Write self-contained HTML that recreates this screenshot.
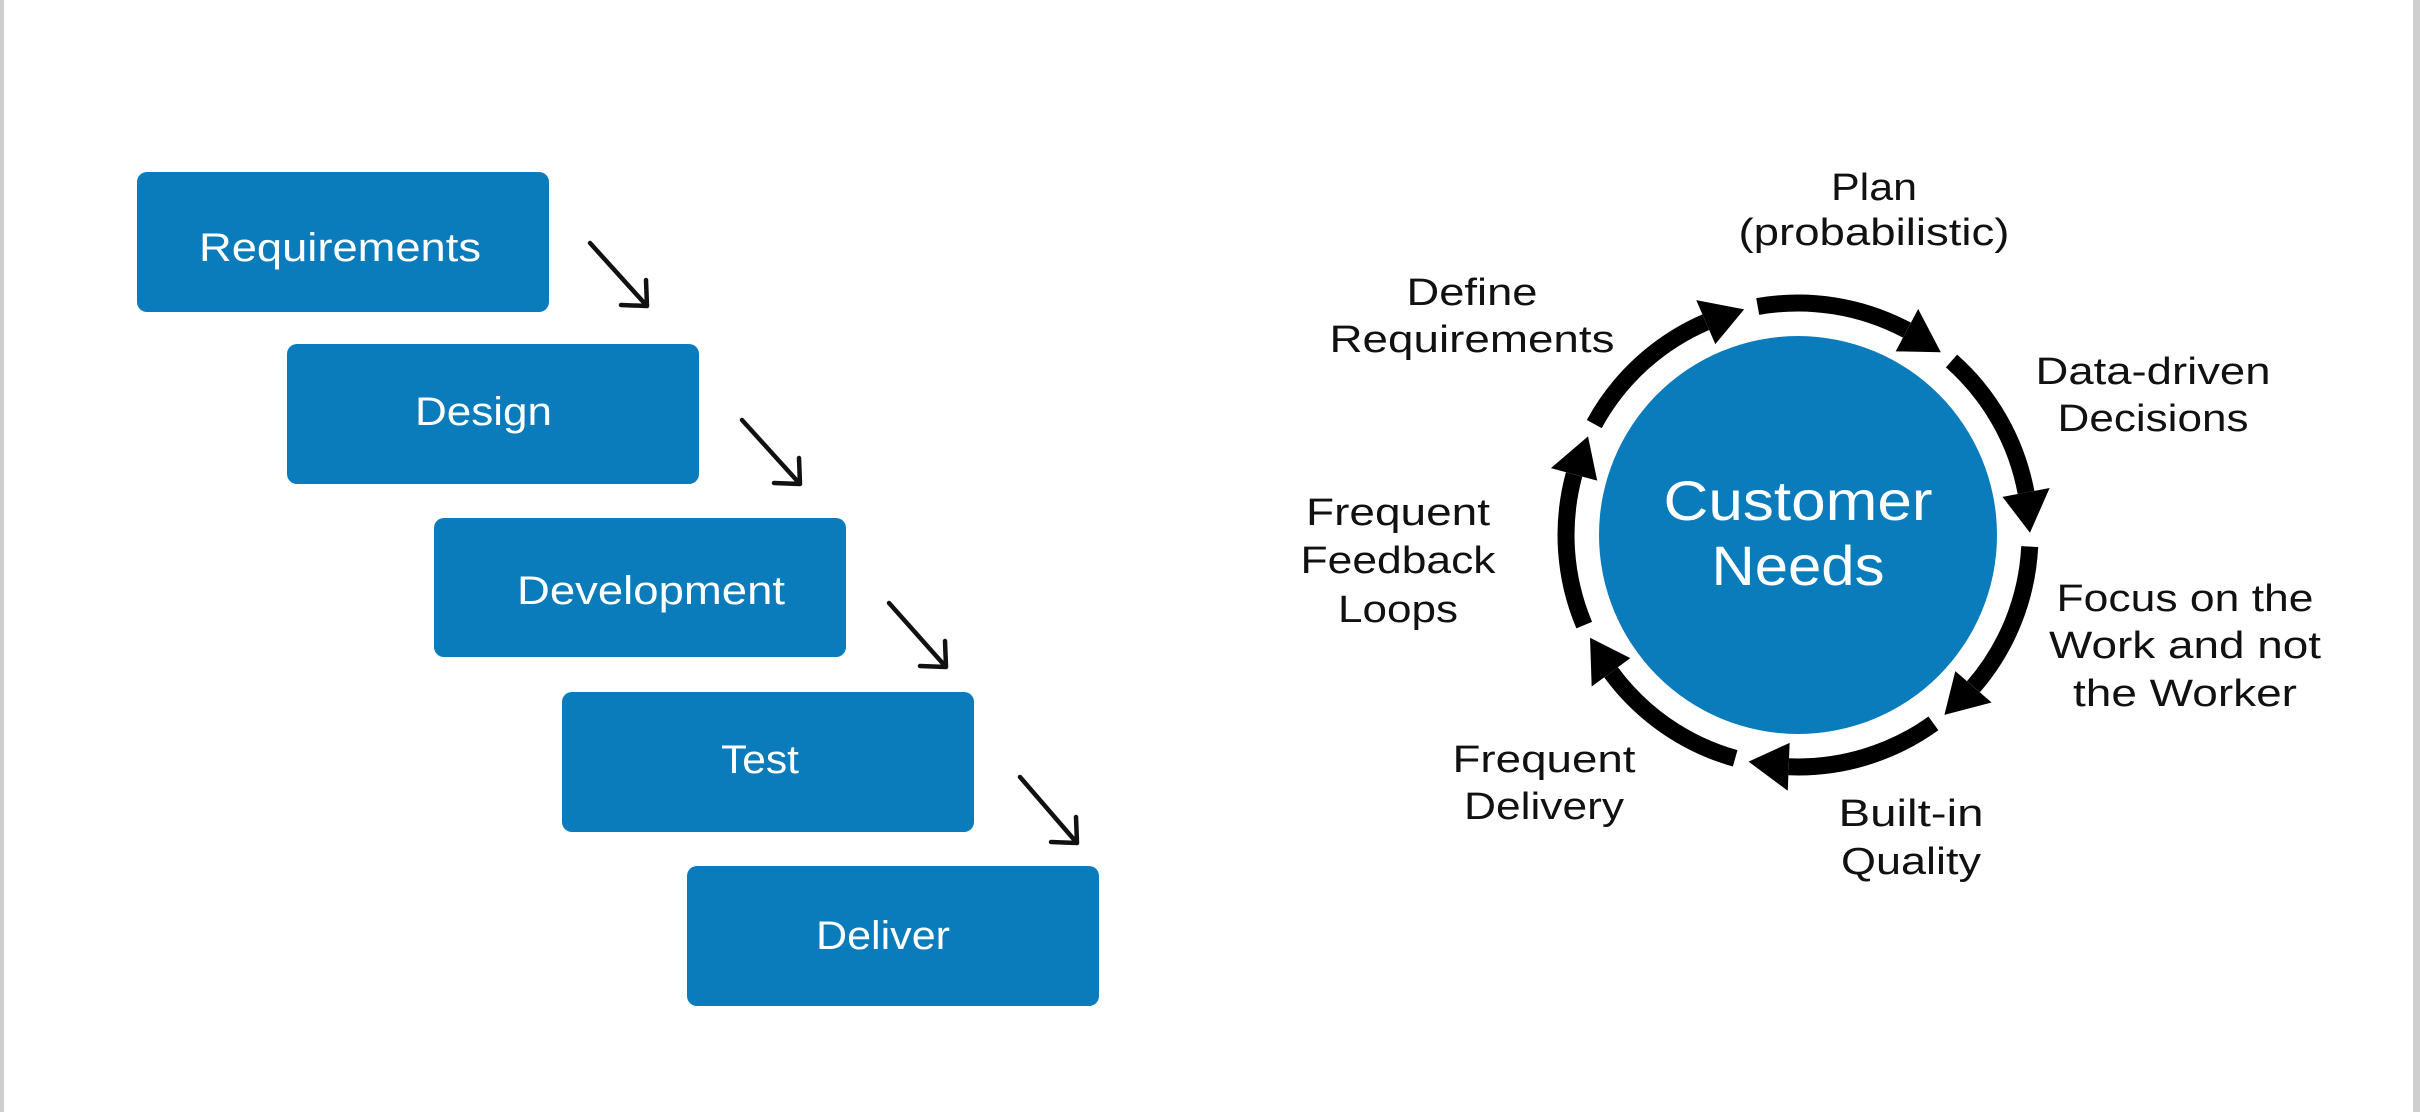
<!DOCTYPE html>
<html><head><meta charset="utf-8"><style>
html,body{margin:0;padding:0;background:#fff;}
svg{display:block;}
text{font-family:"Liberation Sans",sans-serif;}
</style></head><body>
<svg width="2420" height="1112" viewBox="0 0 2420 1112" xmlns="http://www.w3.org/2000/svg">
<rect x="0" y="0" width="2420" height="1112" fill="#fff"/>
<rect x="0" y="0" width="4" height="1112" fill="#cfcfcf"/>
<rect x="2413" y="0" width="7" height="1112" fill="#cfcfcf"/>
<g fill="#0a7bbb">
<rect x="137" y="172" width="412" height="140" rx="10"/>
<rect x="287" y="344" width="412" height="140" rx="10"/>
<rect x="434" y="518" width="412" height="139" rx="10"/>
<rect x="562" y="692" width="412" height="140" rx="10"/>
<rect x="687" y="866" width="412" height="140" rx="10"/>
</g>
<g fill="#fff" font-size="40">
<text x="199" y="261" textLength="282" lengthAdjust="spacingAndGlyphs">Requirements</text>
<text x="415" y="425" textLength="137" lengthAdjust="spacingAndGlyphs">Design</text>
<text x="517" y="604" textLength="268" lengthAdjust="spacingAndGlyphs">Development</text>
<text x="721" y="773" textLength="78" lengthAdjust="spacingAndGlyphs">Test</text>
<text x="816" y="949" textLength="134" lengthAdjust="spacingAndGlyphs">Deliver</text>
</g>
<g stroke="#111" stroke-width="4.5" fill="none" stroke-linecap="round">
<path d="M590 243 L647 306 M647 306 L646 280 M647 306 L621 305"/>
<path d="M742 420 L800 484 M800 484 L799 458 M800 484 L774 483"/>
<path d="M889 603 L946 667 M946 667 L945 641 M946 667 L920 666"/>
<path d="M1020 777 L1077 843 M1077 843 L1076 817 M1077 843 L1051 842"/>
</g>
<circle cx="1798" cy="535" r="199" fill="#0a7bbb"/>
<defs>
<g id="seg">
<path d="M1798 303 A232 232 0 0 1 1940.8 352.2" stroke="#000" stroke-width="17" fill="none"/>
<polygon points="1970.4,379.8 1955.6,333.3 1926.1,371.1" fill="#000"/>
</g>
</defs>
<use href="#seg" transform="rotate(-10 1798 535)"/>
<use href="#seg" transform="rotate(41.43 1798 535)"/>
<use href="#seg" transform="rotate(92.86 1798 535)"/>
<use href="#seg" transform="rotate(144.29 1798 535)"/>
<use href="#seg" transform="rotate(195.71 1798 535)"/>
<use href="#seg" transform="rotate(247.14 1798 535)"/>
<use href="#seg" transform="rotate(298.57 1798 535)"/>
<g fill="#fff" font-size="56" text-anchor="middle">
<text x="1798" y="520" textLength="269" lengthAdjust="spacingAndGlyphs">Customer</text>
<text x="1798" y="585" textLength="173" lengthAdjust="spacingAndGlyphs">Needs</text>
</g>
<g fill="#111" font-size="38" text-anchor="middle">
<text x="1874" y="200" textLength="86" lengthAdjust="spacingAndGlyphs">Plan</text>
<text x="1874" y="245" textLength="271" lengthAdjust="spacingAndGlyphs">(probabilistic)</text>
<text x="1472" y="305" textLength="131" lengthAdjust="spacingAndGlyphs">Define</text>
<text x="1472" y="352" textLength="285" lengthAdjust="spacingAndGlyphs">Requirements</text>
<text x="2153" y="384" textLength="235" lengthAdjust="spacingAndGlyphs">Data-driven</text>
<text x="2153" y="431" textLength="191" lengthAdjust="spacingAndGlyphs">Decisions</text>
<text x="1398" y="525" textLength="184" lengthAdjust="spacingAndGlyphs">Frequent</text>
<text x="1398" y="573" textLength="195" lengthAdjust="spacingAndGlyphs">Feedback</text>
<text x="1398" y="622" textLength="120" lengthAdjust="spacingAndGlyphs">Loops</text>
<text x="2185" y="611" textLength="257" lengthAdjust="spacingAndGlyphs">Focus on the</text>
<text x="2185" y="658" textLength="272" lengthAdjust="spacingAndGlyphs">Work and not</text>
<text x="2185" y="706" textLength="224" lengthAdjust="spacingAndGlyphs">the Worker</text>
<text x="1544" y="772" textLength="183" lengthAdjust="spacingAndGlyphs">Frequent</text>
<text x="1544" y="819" textLength="160" lengthAdjust="spacingAndGlyphs">Delivery</text>
<text x="1911" y="826" textLength="145" lengthAdjust="spacingAndGlyphs">Built-in</text>
<text x="1911" y="874" textLength="140" lengthAdjust="spacingAndGlyphs">Quality</text>
</g>
</svg>
</body></html>
